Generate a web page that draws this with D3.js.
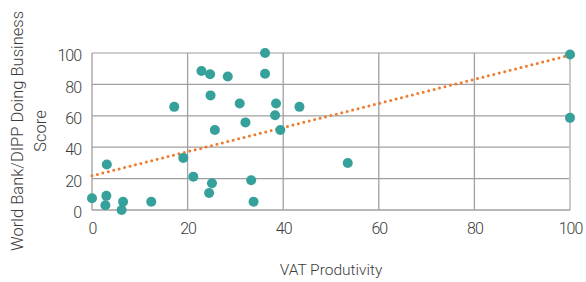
<!DOCTYPE html>
<html>
<head>
<meta charset="utf-8">
<script src="https://cdn.jsdelivr.net/npm/d3@7"></script>
<style>
    body { margin: 0; background: #fff; }
    text { font-family: Roboto, "Noto Sans", sans-serif; font-weight: 300; fill: #3c3c3c; }
</style>
</head>
<body>
<div id="chart"></div>
<script>
// VAT productivity vs doing business score
const vatProductivity = [0, 3.1, 3.0, 2.8, 6.5, 6.2, 12.4, 17.2, 19.1, 21.2, 22.9, 24.7, 24.8, 25.7, 25.1, 24.5,
    28.4, 30.9, 32.1, 33.3, 33.8, 36.2, 36.2, 38.5, 38.3, 39.4, 43.4, 53.5, 100, 100];
const dbScore = [7.5, 29, 9, 3, 5.3, 0, 5.3, 65.7, 33.2, 21.2, 88.5, 86.5, 73, 51, 17, 10.8,
    85, 67.8, 55.8, 19, 5.3, 100, 86.8, 67.8, 60.4, 51, 65.7, 29.9, 99, 58.7];
const trend = [{ x: 0, y: 21.8 }, { x: 100, y: 98.6 }];
const xTicks = [0, 20, 40, 60, 80, 100];
const yTicks = [0, 20, 40, 60, 80, 100];

const points = vatProductivity.map((v, i) => ({ x: v, y: dbScore[i] }));

const W = 586, H = 282;
const margin = { top: 53, right: 16, bottom: 72, left: 92 };
const width = W - margin.left - margin.right;
const height = H - margin.top - margin.bottom;

const svg = d3.select("#chart").append("svg")
    .attr("width", W)
    .attr("height", H);
const g = svg.append("g").attr("transform", `translate(${margin.left},${margin.top})`);

const x = d3.scaleLinear().domain([0, 100]).range([0, width]);
const y = d3.scaleLinear().domain([0, 100]).range([height, 0]);

// grid
g.selectAll(".hgrid").data(yTicks.filter(d => d > 0)).enter().append("line")
    .attr("x1", 0).attr("x2", width)
    .attr("y1", d => y(d)).attr("y2", d => y(d))
    .attr("stroke", d => d === 100 ? "#bdbdbd" : "#a0a0a0")
    .attr("stroke-width", 1.3);
g.selectAll(".vgrid").data(xTicks.filter(d => d > 0)).enter().append("line")
    .attr("x1", d => x(d)).attr("x2", d => x(d))
    .attr("y1", 0).attr("y2", height)
    .attr("stroke", d => d === 100 ? "#c8c8c8" : "#a0a0a0")
    .attr("stroke-width", d => d === 100 ? 2 : 1.3);

// axes lines
g.append("line").attr("x1", 0).attr("x2", width).attr("y1", height).attr("y2", height)
    .attr("stroke", "#a0a0a0").attr("stroke-width", 1.3);
g.append("line").attr("x1", 0).attr("x2", 0).attr("y1", 0).attr("y2", height)
    .attr("stroke", "#a0a0a0").attr("stroke-width", 1.3);

// tick labels
const xAxis = g.append("g").attr("transform", `translate(0,${height})`)
    .call(d3.axisBottom(x).tickValues(xTicks).tickSize(0).tickPadding(13));
const yAxis = g.append("g")
    .call(d3.axisLeft(y).tickValues(yTicks).tickSize(0).tickPadding(11));
yAxis.selectAll("text").attr("dy", "0.48em");
[xAxis, yAxis].forEach(a => {
    a.select(".domain").remove();
    a.selectAll("text")
        .style("font-size", "16px")
        .style("letter-spacing", "-1px")
        .attr("fill", "#3c3c3c");
});

// trend line
g.append("path")
    .datum(trend)
    .attr("fill", "none")
    .attr("stroke", "#f07a2c")
    .attr("stroke-width", 3)
    .attr("stroke-linecap", "round")
    .attr("stroke-dasharray", "0 5.6")
    .attr("d", d3.line().x(d => x(d.x)).y(d => y(d.y)));

// points
g.selectAll("circle").data(points).enter().append("circle")
    .attr("cx", d => x(d.x))
    .attr("cy", d => y(d.y))
    .attr("r", 5)
    .attr("fill", "#36a09a");

// axis titles
svg.append("text")
    .attr("x", margin.left + width / 2)
    .attr("y", 275)
    .attr("text-anchor", "middle")
    .style("font-size", "15.5px")
    .text("VAT Produtivity");

const yTitle = svg.append("text")
    .attr("text-anchor", "middle")
    .attr("transform", `translate(23,131)rotate(-90)`)
    .style("font-size", "16.5px");
yTitle.append("tspan").attr("x", 0).attr("dy", 0).text("World Bank/DIPP Doing Business");
yTitle.append("tspan").attr("x", 0).attr("dy", 23).text("Score");
</script>
</body>
</html>
